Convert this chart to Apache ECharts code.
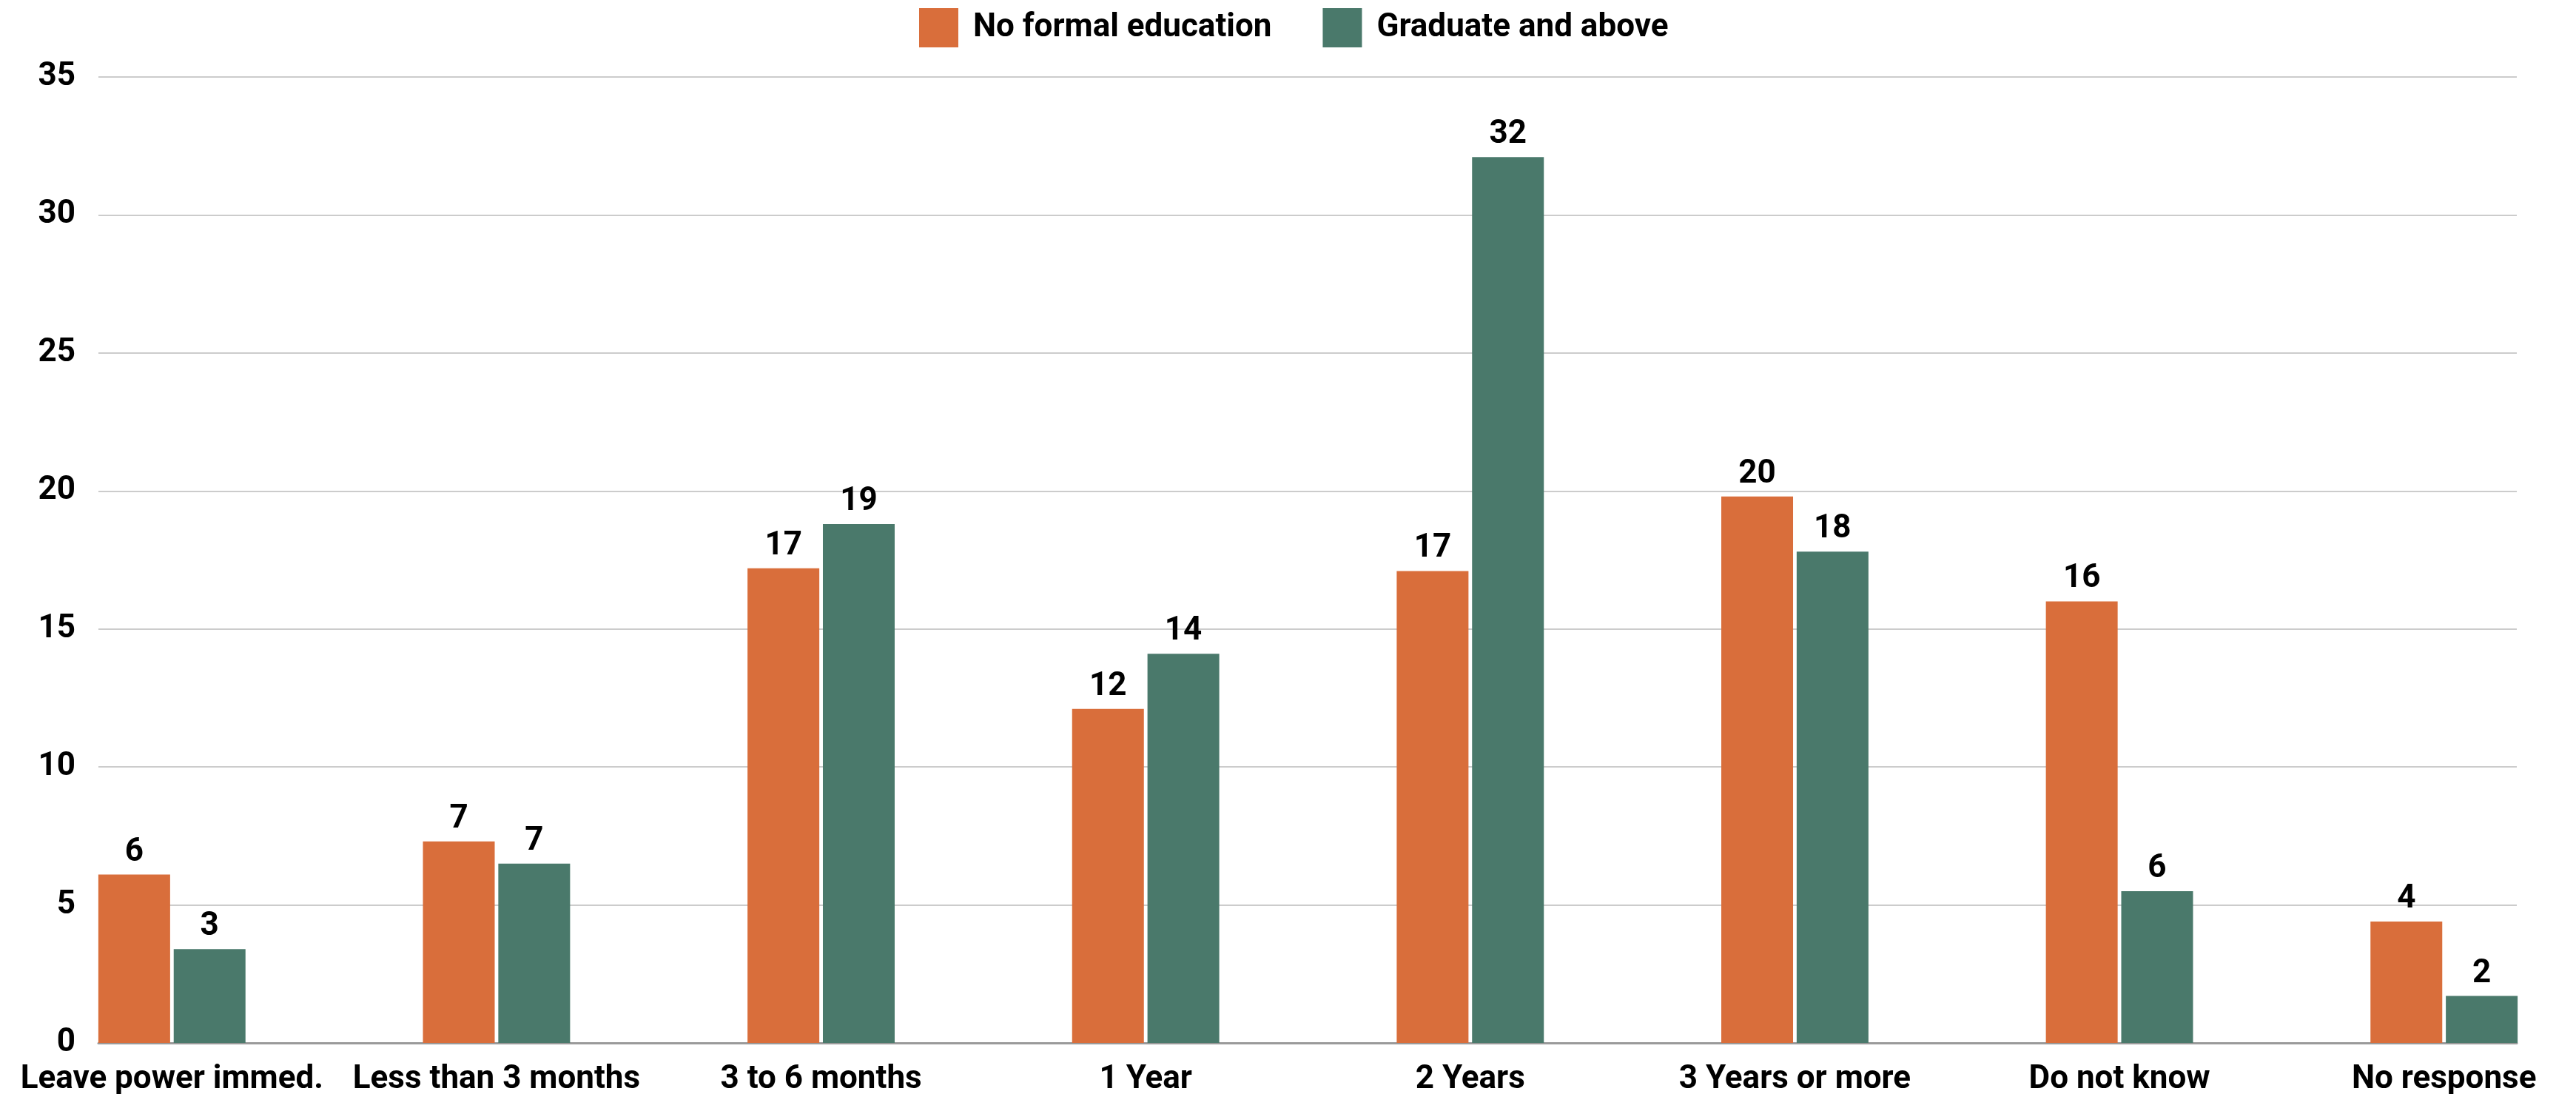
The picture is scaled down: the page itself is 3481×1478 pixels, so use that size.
<!DOCTYPE html>
<html>
<head>
<meta charset="utf-8">
<script src="https://cdn.jsdelivr.net/npm/echarts@6/dist/echarts.min.js"></script>
<style>
html,body{margin:0;padding:0;background:#fff;}
#chart{width:3481px;height:1478px;}
</style>
</head>
<body>
<div id="chart"></div>
<script>
const categories = ["Leave power immed.", "Less than 3 months", "3 to 6 months", "1 Year", "2 Years", "3 Years or more", "Do not know", "No response"];
const seriesNames = ["No formal education", "Graduate and above"];
const noFormal = [6.1, 7.3, 17.2, 12.1, 17.1, 19.8, 16.0, 4.4];
const graduate = [3.4, 6.5, 18.8, 14.1, 32.1, 17.8, 5.5, 1.7];
const yTicks = { min: 0, max: 35, interval: 5 };

const FONT = 'Roboto';
const chart = echarts.init(document.getElementById('chart'));
const labelCfg = {
  show: true, position: 'top', distance: 8,
  fontFamily: FONT, fontWeight: 'bold', fontSize: 44, color: '#000',
  formatter: p => Math.round(p.value)
};
chart.setOption({
  animation: false,
  backgroundColor: '#fff',
  legend: {
    left: 1237, top: 6,
    itemWidth: 53, itemHeight: 53, itemGap: 69,
    icon: 'rect',
    textStyle: { fontFamily: FONT, fontWeight: 'bold', fontSize: 44, color: '#000', padding: [0, 0, 0, 15] },
    data: seriesNames
  },
  grid: [
    { left: 13, top: 104, width: 3509, bottom: 69, outerBoundsMode: 'none' },
    { left: 133, top: 104, right: 80, bottom: 69, outerBoundsMode: 'none' }
  ],
  xAxis: [
    {
      type: 'category', gridIndex: 0, data: categories, boundaryGap: true,
      axisLine: { show: false }, axisTick: { show: false }, splitLine: { show: false },
      axisLabel: { interval: 0, margin: 28, fontFamily: FONT, fontWeight: 'bold', fontSize: 44, color: '#000' }
    },
    {
      type: 'value', gridIndex: 1, min: 0, max: 1,
      axisLine: { show: true, lineStyle: { color: '#9a9a9a', width: 3 } },
      axisTick: { show: false }, axisLabel: { show: false }, splitLine: { show: false }
    }
  ],
  yAxis: [
    { type: 'value', gridIndex: 0, min: yTicks.min, max: yTicks.max, show: false, splitLine: { show: false } },
    {
      type: 'value', gridIndex: 1, min: yTicks.min, max: yTicks.max, interval: yTicks.interval,
      axisLine: { show: false }, axisTick: { show: false },
      axisLabel: { margin: 31, fontFamily: FONT, fontWeight: 'bold', fontSize: 44, color: '#000' },
      splitLine: { show: true, lineStyle: { color: '#cccccc', width: 2 } }
    }
  ],
  series: [
    { name: seriesNames[0], type: 'bar', xAxisIndex: 0, yAxisIndex: 0, data: noFormal,
      barWidth: 97, barGap: '5%', itemStyle: { color: '#d96e3b' }, label: labelCfg },
    { name: seriesNames[1], type: 'bar', xAxisIndex: 0, yAxisIndex: 0, data: graduate,
      barWidth: 97, barGap: '5%', itemStyle: { color: '#4a796b' }, label: labelCfg }
  ]
});
</script>
</body>
</html>
